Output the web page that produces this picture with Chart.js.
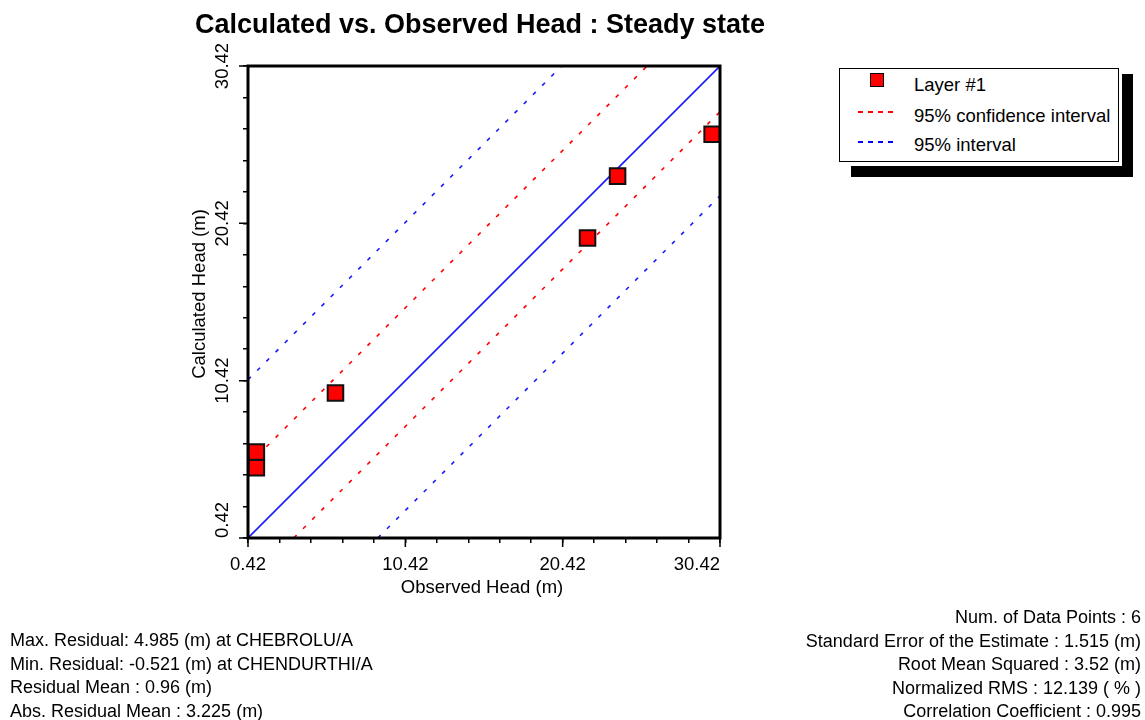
<!DOCTYPE html>
<html lang="en">
<head>
    <meta charset="UTF-8">
    <title>Calculated vs. Observed Head : Steady state</title>
    <script src="https://cdn.jsdelivr.net/npm/chart.js"></script>
    <style>
        body {
            margin: 0;
            background: #ffffff;
            font-family: 'Liberation Sans', Arial, sans-serif;
            color: #000;
        }
        .wrap {
            position: relative;
            width: 1145px;
            height: 720px;
            overflow: hidden;
        }
        #headChart {
            position: absolute;
            left: 0;
            top: 0;
        }
        .legend-shadow {
            position: absolute;
            left: 851px; top: 74px;
            width: 282px; height: 103px;
            background: #000;
        }
        .legend-gap {
            position: absolute;
            left: 834px; top: 62px;
            width: 288px; height: 104px;
            background: #fff;
        }
        .legend {
            position: absolute;
            left: 839px; top: 68px;
            width: 278px; height: 92px;
            border: 1px solid #000;
            background: #fff;
            font-size: 18.5px;
        }
        .legend .mk {
            position: absolute;
            left: 30px; top: 4px;
            width: 12px; height: 12px;
            background: #ff0000;
            border: 1.5px solid #000;
        }
        .legend .dash {
            position: absolute;
            left: 18px;
            width: 36px; height: 2px;
        }
        .legend .dash.red { background: repeating-linear-gradient(90deg, #ff0000 0px, #ff0000 5px, #ffffff 5px, #ffffff 10px); }
        .legend .dash.blue { background: repeating-linear-gradient(90deg, #0000ff 0px, #0000ff 5px, #ffffff 5px, #ffffff 10px); }
        .legend .txt {
            position: absolute;
            left: 74px;
            line-height: 20px;
            white-space: nowrap;
        }
        .stats {
            position: absolute;
            font-size: 18px;
            line-height: 23.5px;
            white-space: nowrap;
        }
        .stats.left { left: 10px; top: 629px; }
        .stats.right { right: 4px; top: 606px; text-align: right; }
    </style>
</head>
<body>

<div class="wrap">
    <canvas id="headChart" width="1145" height="720"></canvas>

    <div class="legend-shadow"></div>
    <div class="legend-gap"></div>
    <div class="legend">
        <div class="mk"></div>
        <div class="txt" style="top:6px">Layer #1</div>
        <div class="dash red" style="top:42px"></div>
        <div class="txt" style="top:37px">95% confidence interval</div>
        <div class="dash blue" style="top:72px"></div>
        <div class="txt" style="top:66px">95% interval</div>
    </div>

    <div class="stats left">
        Max. Residual: 4.985 (m) at CHEBROLU/A<br>
        Min. Residual: -0.521 (m) at CHENDURTHI/A<br>
        Residual Mean : 0.96 (m)<br>
        Abs. Residual Mean : 3.225 (m)
    </div>
    <div class="stats right">
        Num. of Data Points : 6<br>
        Standard Error of the Estimate : 1.515 (m)<br>
        Root Mean Squared : 3.52 (m)<br>
        Normalized RMS : 12.139 ( % )<br>
        Correlation Coefficient : 0.995
    </div>
</div>

<script>
    // observed vs calculated head (m), one entry per well
    const observedHead = [0.95, 0.95, 5.98, 22.00, 23.91, 29.92];
    const calculatedHead = [5.88, 4.88, 9.64, 19.49, 23.42, 26.08];

    // reference lines, end points
    const perfectFit = [{ x: 0.42, y: 0.42 }, { x: 30.42, y: 30.42 }];
    const confUpper = [{ x: 0.42, y: 5.05 }, { x: 25.79, y: 30.42 }];
    const confLower = [{ x: 3.33, y: 0.42 }, { x: 30.42, y: 27.51 }];
    const predUpper = [{ x: 0.42, y: 10.48 }, { x: 20.36, y: 30.42 }];
    const predLower = [{ x: 8.67, y: 0.42 }, { x: 30.42, y: 22.17 }];

    // axis ticks
    const minorTicks = [0.42, 2.42, 4.42, 6.42, 8.42, 10.42, 12.42, 14.42, 16.42, 18.42, 20.42, 22.42, 24.42, 26.42, 28.42, 30.42];
    const tickValues = [0.42, 10.42, 20.42, 30.42];
    const tickLabels = ['0.42', '10.42', '20.42', '30.42'];

    const FONT = '"Liberation Sans", Arial, sans-serif';

    // frame, long ticks, tick labels and titles
    const headText = {
        id: 'headText',
        afterDraw(chart) {
            const { ctx, chartArea: a, scales: { x, y } } = chart;
            ctx.save();
            ctx.strokeStyle = '#000';
            ctx.lineWidth = 3;
            ctx.strokeRect(a.left, a.top, a.right - a.left, a.bottom - a.top);

            ctx.lineWidth = 1.5;
            ctx.beginPath();
            tickValues.forEach(v => {
                const px = x.getPixelForValue(v);
                const py = y.getPixelForValue(v);
                ctx.moveTo(px, a.bottom);
                ctx.lineTo(px, a.bottom + 9);
                ctx.moveTo(a.left, py);
                ctx.lineTo(a.left - 9, py);
            });
            ctx.stroke();

            ctx.fillStyle = '#000';
            ctx.font = '18.5px ' + FONT;
            ctx.textBaseline = 'middle';
            tickValues.forEach((v, i) => {
                const last = i === tickValues.length - 1;
                ctx.textAlign = last ? 'right' : 'center';
                ctx.fillText(tickLabels[i], last ? a.right : x.getPixelForValue(v), 565);
            });
            tickValues.forEach((v, i) => {
                ctx.save();
                ctx.translate(223, i === 0 ? a.bottom : y.getPixelForValue(v));
                ctx.rotate(-Math.PI / 2);
                ctx.textAlign = i === 0 ? 'left' : 'center';
                ctx.fillText(tickLabels[i], 0, 0);
                ctx.restore();
            });

            ctx.textAlign = 'center';
            ctx.fillText('Observed Head (m)', 482, 588);
            ctx.save();
            ctx.translate(200, 294);
            ctx.rotate(-Math.PI / 2);
            ctx.fillText('Calculated Head (m)', 0, 0);
            ctx.restore();

            ctx.font = 'bold 27px ' + FONT;
            ctx.fillText('Calculated vs. Observed Head : Steady state', 480, 26);
            ctx.restore();
        }
    };

    const lineSet = (label, data, color, dash) => ({
        label: label,
        data: data,
        showLine: true,
        borderColor: color,
        borderWidth: 1.6,
        borderDash: dash,
        pointRadius: 0,
        fill: false
    });

    const axis = (fit) => ({
        type: 'linear',
        min: 0.42,
        max: 30.42,
        afterBuildTicks: ax => { ax.ticks = minorTicks.map(v => ({ value: v })); },
        afterFit: fit,
        ticks: { display: false },
        grid: {
            drawOnChartArea: false,
            drawTicks: true,
            tickLength: 5,
            color: '#000',
            lineWidth: 1.5
        },
        border: { display: false }
    });

    new Chart(document.getElementById('headChart'), {
        type: 'scatter',
        data: {
            datasets: [
                {
                    label: 'Layer #1',
                    data: observedHead.map((v, i) => ({ x: v, y: calculatedHead[i] })),
                    pointStyle: 'rect',
                    pointRadius: 11,
                    backgroundColor: '#ff0000',
                    borderColor: '#111',
                    borderWidth: 2
                },
                lineSet('1:1', perfectFit, '#1a1aff', []),
                lineSet('95% confidence interval', confUpper, '#ff0000', [4, 9]),
                lineSet('95% confidence interval', confLower, '#ff0000', [4, 9]),
                lineSet('95% interval', predUpper, '#1a1aff', [4, 9]),
                lineSet('95% interval', predLower, '#1a1aff', [4, 9])
            ]
        },
        options: {
            responsive: false,
            animation: false,
            layout: { padding: { left: 185, right: 425, top: 66, bottom: 0 } },
            plugins: {
                legend: { display: false },
                title: { display: false },
                tooltip: { enabled: false }
            },
            scales: {
                x: axis(ax => { ax.height = 182; }),
                y: axis(ax => { ax.width = 63; })
            }
        },
        plugins: [headText]
    });
</script>

</body>
</html>
